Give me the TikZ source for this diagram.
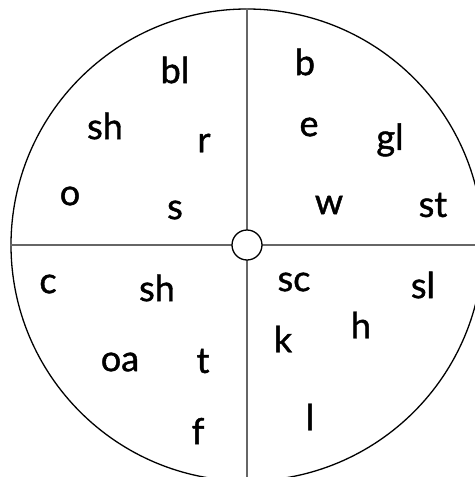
\documentclass[tikz,border=0pt]{standalone}
\usepackage{fontspec}
\setmainfont{Lato}
\newfontfamily\soundfont{Lato}[FakeBold=1.2]

\tikzset{
    sound/.style={font=\soundfont\fontsize{18}{20}\selectfont, inner sep=0pt},
    spoke/.style={draw=black!60, line width=0.55pt}
}

\begin{document}
\begin{tikzpicture}[x=0.5pt, y=-0.5pt]
    \useasboundingbox (0,0) rectangle (475,477);
    \clip (0,0) rectangle (475,477);

    % Outer wheel
    \node[draw, circle, line width=0.65pt, minimum size=236pt, inner sep=0pt] (wheel) at (247,245) {};

    % Hub in the middle
    \node[circle, minimum size=15pt, inner sep=0pt] (hub) at (247,245) {};

    % Spokes
    \draw[spoke] (wheel.north) -- (hub.north);
    \draw[spoke] (wheel.south) -- (hub.south);
    \draw[spoke] (wheel.west) -- (hub.west);
    \draw[spoke] (wheel.east) -- (hub.east);
    \node[draw, fill=white, circle, line width=0.65pt, minimum size=15pt, inner sep=0pt] at (hub) {};

    % Top left quarter
    \node[sound] (bl) at (175,70) {bl};
    \node[sound] (shtop) at (105,126) {sh};
    \node[sound] (r) at (204,143) {r};
    \node[sound] (o) at (70,196) {o};
    \node[sound] (s) at (175,210) {s};

    % Top right quarter
    \node[sound] (b) at (305,62) {b};
    \node[sound] (e) at (309,127) {e};
    \node[sound] (gl) at (390,140) {gl};
    \node[sound] (w) at (329,205) {w};
    \node[sound] (st) at (433,205) {st};

    % Bottom left quarter
    \node[sound] (c) at (48,284) {c};
    \node[sound] (shbot) at (157,288) {sh};
    \node[sound] (oa) at (120,362) {oa};
    \node[sound] (t) at (203,361) {t};
    \node[sound] (f) at (198,431) {f};

    % Bottom right quarter
    \node[sound] (sc) at (294,282) {sc};
    \node[sound] (sl) at (423,285) {sl};
    \node[sound] (h) at (361,325) {h};
    \node[sound] (k) at (283,339) {k};
    \node[sound] (l) at (310,417) {l};
\end{tikzpicture}
\end{document}
